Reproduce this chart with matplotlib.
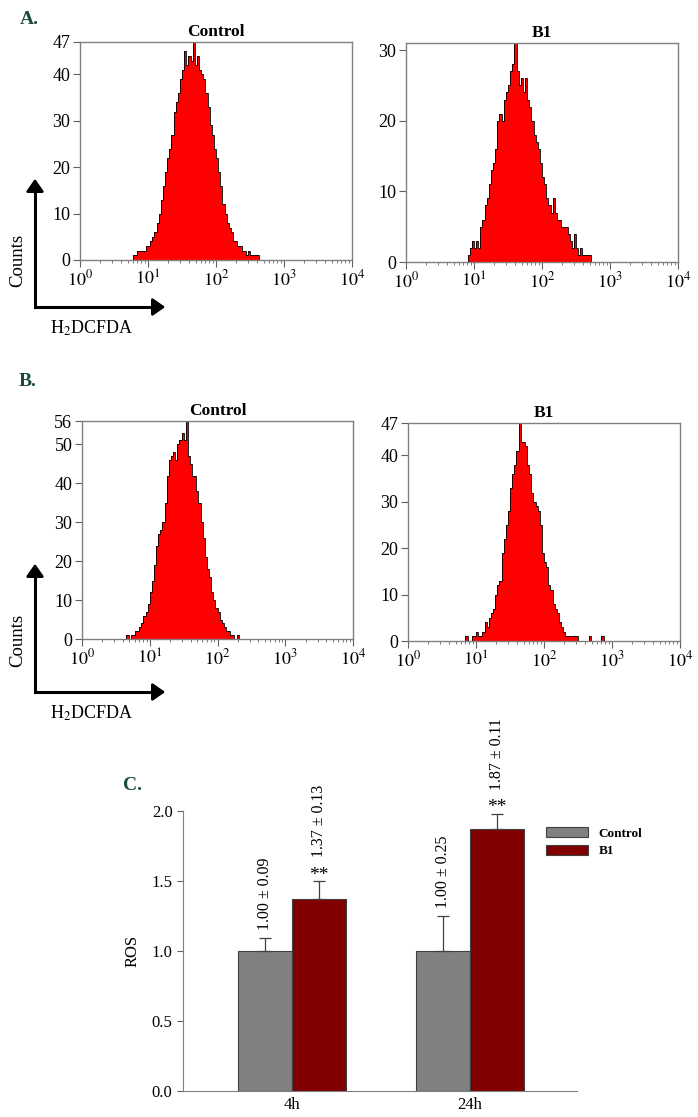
import numpy as np
import matplotlib
matplotlib.use("Agg")
import matplotlib.pyplot as plt
from matplotlib.patches import Patch, FancyArrowPatch
from matplotlib.ticker import LogLocator, NullFormatter, FixedLocator

plt.rcParams['font.family'] = ['Liberation Serif', 'DejaVu Serif']
plt.rcParams['mathtext.fontset'] = 'stix'

# histogram channels: 32 bins per decade from 10^0 to 10^4
bins_per_decade = 32
edges = 10 ** (np.arange(4 * bins_per_decade + 1) / bins_per_decade)

# counts, each list starts at the given bin index
a_ctrl_start = 25
a_ctrl_counts = [1, 1, 2, 2, 2, 2, 3, 3, 4, 5, 6, 8, 10, 13, 16, 19, 22, 24, 27, 32,
                 34, 36, 39, 41, 45, 42, 44, 43, 47, 42, 44, 41, 40, 39, 36, 33, 29, 27,
                 24, 22, 19, 16, 12, 10, 8, 7, 6, 4, 4, 3, 3, 2, 2, 1, 2, 1, 1, 1, 1]
a_b1_start = 29
a_b1_counts = [1, 2, 3, 2, 3, 2, 5, 6, 8, 9, 11, 13, 14, 16, 20, 21, 20, 23, 24, 25,
               27, 28, 31, 27, 25, 26, 24, 26, 23, 22, 20, 18, 17, 16, 14, 12, 11, 9,
               8, 7, 9, 7, 6, 6, 5, 5, 5, 4, 3, 2, 4, 2, 1, 2, 1, 1, 1, 1]
b_ctrl_start = 21
b_ctrl_counts = [1, 0, 1, 1, 2, 2, 3, 4, 6, 7, 9, 12, 15, 19, 24, 27, 28, 30, 35, 42,
                 46, 47, 48, 46, 50, 51, 53, 51, 56, 47, 45, 42, 42, 38, 35, 30, 26, 21,
                 18, 16, 12, 10, 8, 7, 5, 4, 3, 2, 2, 1, 1, 0, 1]
b_b1_start = 27
b_b1_counts = [1, 0, 0, 1, 1, 2, 1, 1, 2, 4, 3, 5, 6, 7, 10, 12, 13, 19, 22, 25,
               28, 33, 36, 38, 41, 47, 43, 43, 42, 38, 36, 32, 30, 29, 28, 25, 19, 17,
               16, 12, 11, 8, 7, 6, 4, 3, 2, 1, 1, 1, 1, 1, 1, 0, 0, 0, 0, 0, 1, 0,
               0, 0, 0, 0, 1]

# bar chart data
groups = ['4h', '24h']
ros_control = [1.00, 1.00]
ros_control_sd = [0.09, 0.25]
ros_b1 = [1.37, 1.87]
ros_b1_sd = [0.13, 0.11]

W, H = 698, 1117
fig = plt.figure(figsize=(W / 100, H / 100), dpi=100)


def box(x0, x1, ytop, ybot):
    return [x0 / W, 1 - ybot / H, (x1 - x0) / W, (ybot - ytop) / H]


def full_counts(start, vals):
    c = np.zeros(len(edges) - 1)
    c[start:start + len(vals)] = vals
    return c


def hist_panel(rect, start, vals, ymax, yticks, title):
    ax = fig.add_axes(rect)
    c = full_counts(start, vals)
    ax.stairs(c, edges, fill=True, color='#ff0000', lw=0)
    ax.stairs(c, edges, color='black', lw=0.6)
    ax.set_xscale('log')
    ax.set_xlim(1, 1e4)
    ax.set_ylim(0, ymax)
    ax.set_xticks([1, 10, 100, 1000, 10000])
    ax.set_xticklabels([r'$10^{0}$', r'$10^{1}$', r'$10^{2}$', r'$10^{3}$', r'$10^{4}$'])
    ax.xaxis.set_minor_locator(LogLocator(base=10, subs=np.arange(2, 10)))
    ax.xaxis.set_minor_formatter(NullFormatter())
    ax.yaxis.set_major_locator(FixedLocator(yticks))
    for s in ax.spines.values():
        s.set_color('#808080')
        s.set_linewidth(1.0)
    ax.tick_params(axis='both', which='major', direction='out', length=5,
                   color='#606060', labelsize=13, pad=2)
    ax.tick_params(axis='x', which='minor', direction='out', length=2.5, color='#606060')
    ax.tick_params(top=False, right=False)
    ax.set_title(title, fontsize=12.5, fontweight='bold', pad=4)
    return ax


hist_panel(box(80, 352, 42, 260), a_ctrl_start, a_ctrl_counts, 47,
           [0, 10, 20, 30, 40, 47], 'Control')
hist_panel(box(406, 678, 43, 262), a_b1_start, a_b1_counts, 31,
           [0, 10, 20, 30], 'B1')
hist_panel(box(82, 353, 421, 639), b_ctrl_start, b_ctrl_counts, 56,
           [0, 10, 20, 30, 40, 50, 56], 'Control')
hist_panel(box(408, 680, 423, 641), b_b1_start, b_b1_counts, 47,
           [0, 10, 20, 30, 40, 47], 'B1')

# panel letters
green = '#1a4a3a'
for lbl, x, y in [('A.', 20, 20), ('B.', 19, 382), ('C.', 123, 785)]:
    fig.text(x / W, 1 - y / H, lbl, fontsize=14, fontweight='bold', color=green,
             ha='left', va='center')

# Counts / H2DCFDA arrows
for ycorner, ytip, ylab, yh in [(307, 176, 260, 328), (692, 561, 640, 713)]:
    fig.add_artist(plt.Line2D([35 / W, 35 / W], [1 - ycorner / H, 1 - (ytip + 10) / H],
                              color='black', lw=2.2))
    fig.add_artist(plt.Line2D([35 / W, 158 / W], [1 - ycorner / H, 1 - ycorner / H],
                              color='black', lw=2.2))
    fig.patches.append(FancyArrowPatch(
        (35 / W, 1 - (ytip + 14) / H), (35 / W, 1 - ytip / H), transform=fig.transFigure,
        arrowstyle='-|>,head_length=5,head_width=3.5', color='black', lw=2, mutation_scale=1.5))
    fig.patches.append(FancyArrowPatch(
        (154 / W, 1 - ycorner / H), (168 / W, 1 - ycorner / H), transform=fig.transFigure,
        arrowstyle='-|>,head_length=5,head_width=3.5', color='black', lw=2, mutation_scale=1.5))
    fig.text(18 / W, 1 - ylab / H, 'Counts', rotation=90, fontsize=13.5,
             ha='center', va='center')
    fig.text(50 / W, 1 - yh / H, r'H$_2$DCFDA', fontsize=13, ha='left', va='center')

# bar chart
axc = fig.add_axes(box(183, 577, 811, 1091))
x = np.arange(len(groups))
bw = 0.303
axc.bar(x - bw / 2, ros_control, bw, color='#808080', edgecolor='#404040', lw=0.8,
        label='Control')
axc.bar(x + bw / 2, ros_b1, bw, color='#800000', edgecolor='#404040', lw=0.8, label='B1')
axc.errorbar(x - bw / 2, ros_control, yerr=[np.zeros(2), ros_control_sd], fmt='none',
             ecolor='#404040', elinewidth=0.9, capsize=4, capthick=0.9)
axc.errorbar(x + bw / 2, ros_b1, yerr=[np.zeros(2), ros_b1_sd], fmt='none',
             ecolor='#404040', elinewidth=0.9, capsize=4, capthick=0.9)
for i in range(len(groups)):
    top = ros_control[i] + ros_control_sd[i]
    axc.annotate(f'{ros_control[i]:.2f} ± {ros_control_sd[i]:.2f}', (x[i] - bw / 2, top),
                 xytext=(0, 6), textcoords='offset points', rotation=90,
                 ha='center', va='bottom', fontsize=11.5, annotation_clip=False)
    top = ros_b1[i] + ros_b1_sd[i]
    axc.annotate('**', (x[i] + bw / 2, top), xytext=(0, 1), textcoords='offset points',
                 ha='center', va='baseline', fontsize=14, annotation_clip=False)
    axc.annotate(f'{ros_b1[i]:.2f} ± {ros_b1_sd[i]:.2f}', (x[i] + bw / 2, top),
                 xytext=(0, 17), textcoords='offset points', rotation=90,
                 ha='center', va='bottom', fontsize=11.5, annotation_clip=False)
axc.set_xlim(-0.612, 1.601)
axc.set_ylim(0, 2.0)
axc.set_yticks([0.0, 0.5, 1.0, 1.5, 2.0])
axc.set_yticklabels(['0.0', '0.5', '1.0', '1.5', '2.0'])
axc.set_xticks(x)
axc.set_xticklabels(groups)
axc.set_ylabel('ROS', fontsize=12, labelpad=8)
axc.spines['top'].set_visible(False)
axc.spines['right'].set_visible(False)
for s in ['left', 'bottom']:
    axc.spines[s].set_color('#808080')
axc.tick_params(axis='y', direction='out', length=4, color='#606060', labelsize=12)
axc.tick_params(axis='x', length=0, labelsize=12, pad=4)

handles = [Patch(facecolor='#808080', edgecolor='#404040', lw=0.8),
           Patch(facecolor='#800000', edgecolor='#404040', lw=0.8)]
fig.legend(handles, ['Control', 'B1'], loc='upper left',
           bbox_to_anchor=(534 / W, 1 - 815 / H), frameon=False,
           prop={'weight': 'bold', 'size': 9.5}, handlelength=3.2, handleheight=0.8,
           handletextpad=0.8, labelspacing=0.4)

fig.savefig('out.png', dpi=100)
